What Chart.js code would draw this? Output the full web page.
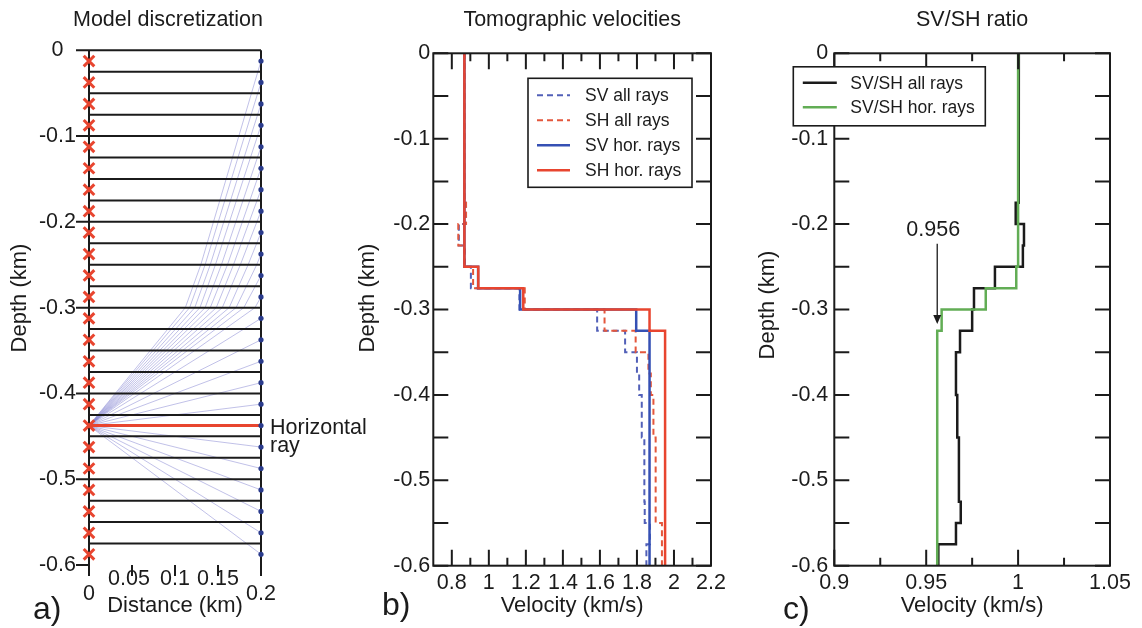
<!DOCTYPE html>
<html lang="en">
<head>
<meta charset="utf-8">
<title>Model discretization, tomographic velocities and SV/SH ratio</title>
<script src="https://cdn.jsdelivr.net/npm/chart.js@4/dist/chart.umd.min.js"></script>
<style>
  html, body { margin: 0; padding: 0; background: #ffffff; }
  body { position: relative; width: 1142px; height: 628px; overflow: hidden; }
  canvas { position: absolute; top: 0; }
</style>
</head>
<body>
<canvas id="panelA" width="372" height="628" style="left:0px"></canvas>
<canvas id="panelB" width="400" height="628" style="left:345px"></canvas>
<canvas id="panelC" width="397" height="628" style="left:745px"></canvas>
<script>
// ---------- layered model: 24 layers, 25 m thick (depth in km) ----------
const layerTop  = [0, -0.025, -0.05, -0.075, -0.1, -0.125, -0.15, -0.175, -0.2, -0.225, -0.25, -0.275,
                   -0.3, -0.325, -0.35, -0.375, -0.4, -0.425, -0.45, -0.475, -0.5, -0.525, -0.55, -0.575];
const layerBase = [-0.025, -0.05, -0.075, -0.1, -0.125, -0.15, -0.175, -0.2, -0.225, -0.25, -0.275, -0.3,
                   -0.325, -0.35, -0.375, -0.4, -0.425, -0.45, -0.475, -0.5, -0.525, -0.55, -0.575, -0.6];
const cellMid   = [-0.0125, -0.0375, -0.0625, -0.0875, -0.1125, -0.1375, -0.1625, -0.1875, -0.2125, -0.2375, -0.2625, -0.2875,
                   -0.3125, -0.3375, -0.3625, -0.3875, -0.4125, -0.4375, -0.4625, -0.4875, -0.5125, -0.5375, -0.5625, -0.5875];

// ---------- ray geometry (distance in km) ----------
const sourceDistance = 0;
const receiverDistance = 0.2;
const sourceDepth = -0.4375;
const horizontalReceiver = 17;
const bendDepths = [-0.3, -0.25];
// where the upgoing rays cross the -0.3 km and -0.25 km interfaces
const rayCrossing300 = [0.112, 0.117, 0.123, 0.129, 0.135, 0.141, 0.148, 0.155, 0.163, 0.171, 0.180, 0.193];
const rayCrossing250 = [0.130, 0.135, 0.141, 0.147, 0.154, 0.161, 0.168, 0.176, 0.185, 0.195];

// ---------- tomographic velocities per layer (km/s) ----------
const svAllRays = [0.868, 0.868, 0.868, 0.868, 0.868, 0.868, 0.868, 0.876, 0.838, 0.870, 0.903, 1.165,
                   1.585, 1.736, 1.800, 1.812, 1.826, 1.826, 1.840, 1.840, 1.840, 1.842, 1.870, 1.851];
const shAllRays = [0.868, 0.868, 0.868, 0.868, 0.868, 0.868, 0.868, 0.877, 0.835, 0.868, 0.915, 1.194,
                   1.625, 1.793, 1.862, 1.875, 1.889, 1.889, 1.901, 1.901, 1.901, 1.901, 1.935, 1.935];
const svHorRays = [0.868, 0.868, 0.868, 0.868, 0.868, 0.868, 0.868, 0.868, 0.868, 0.868, 0.942, 1.169,
                   1.796, 1.868, 1.868, 1.868, 1.868, 1.868, 1.868, 1.868, 1.868, 1.868, 1.868, 1.868];
const shHorRays = [0.868, 0.868, 0.868, 0.868, 0.868, 0.868, 0.868, 0.868, 0.868, 0.868, 0.943, 1.186,
                   1.868, 1.952, 1.952, 1.952, 1.952, 1.952, 1.952, 1.952, 1.952, 1.952, 1.952, 1.952];

// ---------- SV/SH ratios per layer ----------
const ratioAllRays = [1.0004, 1.0004, 1.0004, 1.0004, 1.0004, 1.0004, 1.0, 0.9987, 1.0032, 1.0026, 0.9874, 0.976,
                      0.975, 0.9684, 0.9662, 0.9662, 0.9669, 0.9669, 0.9678, 0.9678, 0.9678, 0.9688, 0.9662, 0.9566];
const ratioHorRays = [1.0, 1.0, 1.0, 1.0, 1.0, 1.0, 1.0, 1.0, 1.0, 1.0, 0.999, 0.9824,
                      0.9584, 0.956, 0.956, 0.956, 0.956, 0.956, 0.956, 0.956, 0.956, 0.956, 0.956, 0.956];
const annotationValue = 0.956;
const annotationLabel = '0.956';
const annotationTextDepth = -0.207;
const annotationArrowFrom = -0.223;
const annotationArrowTo = -0.317;

// ---------- axis ticks ----------
const depthTicks = [0, -0.1, -0.2, -0.3, -0.4, -0.5, -0.6];
const depthTickLabels = ['0', '-0.1', '-0.2', '-0.3', '-0.4', '-0.5', '-0.6'];
const depthMinorTicks = [-0.05, -0.15, -0.25, -0.35, -0.45, -0.55];
const distanceTicks = [0, 0.05, 0.1, 0.15, 0.2];
const distanceTickLabels = ['0', '0.05', '0.1', '0.15', '0.2'];
const velocityTicks = [0.8, 1, 1.2, 1.4, 1.6, 1.8, 2, 2.2];
const velocityTickLabels = ['0.8', '1', '1.2', '1.4', '1.6', '1.8', '2', '2.2'];
const velocityMinorTicks = [0.9, 1.1, 1.3, 1.5, 1.7, 1.9, 2.1];
const ratioTicks = [0.9, 0.95, 1, 1.05];
const ratioTickLabels = ['0.9', '0.95', '1', '1.05'];
const ratioMinorTicks = [0.925, 0.975, 1.025];

// ---------- styling ----------
const FONT = "'Liberation Sans', Arial, Helvetica, sans-serif";
const INK = '#1b1b1b';
const RED = '#e8452f';
const RED_DASH = '#e4573c';
const BLUE = '#3550b4';
const BLUE_DASH = '#5260b8';
const GREEN = '#62ad55';
const RAY = 'rgba(118, 118, 205, 0.45)';
const DOT = '#2a3b8c';

Chart.defaults.font.family = FONT;
Chart.defaults.font.size = 21.5;
Chart.defaults.color = INK;
Chart.defaults.animation = false;

function stepProfile(values) {
  const pts = [];
  values.forEach((v, k) => {
    pts.push({ x: v, y: layerTop[k] });
    pts.push({ x: v, y: layerBase[k] });
  });
  return pts;
}

function lineSet(label, data, color, width, dash, order) {
  return { label, data, showLine: true, borderColor: color, backgroundColor: color,
           borderWidth: width, borderDash: dash || [], pointRadius: 0, pointHoverRadius: 0,
           tension: 0, clip: false, order: order };
}

function depthAxis(width, pad, centered) {
  return {
    type: 'linear', position: 'left', min: -0.6, max: 0,
    afterBuildTicks: s => { s.ticks = depthTicks.map(v => ({ value: v })); },
    afterFit: s => { s.width = width; },
    grid: { display: false, drawTicks: false }, border: { display: false },
    ticks: { padding: pad, crossAlign: centered ? 'center' : 'near', color: INK,
             font: { size: 21.5 }, callback: (v, i) => depthTickLabels[i] }
  };
}

function valueAxis(min, max, ticks, labels, height, title, showLabels) {
  return {
    type: 'linear', position: 'bottom', min, max,
    afterBuildTicks: s => { s.ticks = ticks.map(v => ({ value: v })); },
    afterFit: s => { s.height = height; },
    grid: { display: false, drawTicks: false }, border: { display: false },
    ticks: { display: showLabels, padding: 4.1, color: INK, maxRotation: 0, autoSkip: false,
             font: { size: 21.5 }, callback: (v, i) => labels[i] },
    title: { display: true, text: title, color: INK, font: { size: 22 }, padding: { top: 0, bottom: 9.1 } }
  };
}

function baseOptions(title, padTop, padRight, titleGap) {
  return {
    responsive: false, maintainAspectRatio: false, animation: false, devicePixelRatio: 1,
    events: [],
    layout: { padding: { left: 0, top: padTop, right: padRight, bottom: 0 } },
    plugins: {
      legend: { display: false }, tooltip: { enabled: false },
      title: { display: !!title, text: title || '', fullSize: false, color: INK,
               font: { size: 21.5, weight: 'normal' }, padding: { top: 7.1, bottom: titleGap } }
    }
  };
}

function drawText(ctx, text, x, y, size, align) {
  ctx.save();
  ctx.font = size + 'px ' + FONT;
  ctx.fillStyle = INK;
  ctx.textAlign = align || 'center';
  ctx.textBaseline = 'middle';
  ctx.fillText(text, x, y);
  ctx.restore();
}

function drawRotated(ctx, text, x, y, size) {
  ctx.save();
  ctx.translate(x, y);
  ctx.rotate(-Math.PI / 2);
  ctx.font = size + 'px ' + FONT;
  ctx.fillStyle = INK;
  ctx.textAlign = 'center';
  ctx.textBaseline = 'middle';
  ctx.fillText(text, 0, 0);
  ctx.restore();
}

function drawPanelLetter(ctx, letter, x, y) {
  ctx.save();
  ctx.font = '32px ' + FONT;
  ctx.fillStyle = INK;
  ctx.textAlign = 'left';
  ctx.textBaseline = 'alphabetic';
  ctx.fillText(letter, x, y);
  ctx.restore();
}

// boxed frame with inward ticks on all four sides
function drawBoxFrame(chart, major, minor) {
  const { ctx, chartArea: a, scales: { x, y } } = chart;
  ctx.save();
  ctx.strokeStyle = INK;
  ctx.lineWidth = 2;
  ctx.strokeRect(a.left, a.top, a.right - a.left, a.bottom - a.top);
  ctx.beginPath();
  depthTicks.concat(depthMinorTicks).forEach(v => {
    const p = y.getPixelForValue(v);
    ctx.moveTo(a.left, p); ctx.lineTo(a.left + 15, p);
    ctx.moveTo(a.right, p); ctx.lineTo(a.right - 15, p);
  });
  major.forEach(v => {
    const p = x.getPixelForValue(v);
    ctx.moveTo(p, a.bottom); ctx.lineTo(p, a.bottom - 16);
    ctx.moveTo(p, a.top); ctx.lineTo(p, a.top + 16);
  });
  minor.forEach(v => {
    const p = x.getPixelForValue(v);
    ctx.moveTo(p, a.bottom); ctx.lineTo(p, a.bottom - 8);
    ctx.moveTo(p, a.top); ctx.lineTo(p, a.top + 8);
  });
  ctx.stroke();
  ctx.restore();
}

function drawLegend(chart, box, ids) {
  const { ctx } = chart;
  ctx.save();
  ctx.fillStyle = '#ffffff';
  ctx.fillRect(box.x, box.y, box.w, box.h);
  ctx.strokeStyle = INK;
  ctx.lineWidth = 1.6;
  ctx.strokeRect(box.x, box.y, box.w, box.h);
  ids.forEach((idx, i) => {
    const ds = chart.data.datasets[idx];
    const yy = box.y + box.first + i * box.step;
    ctx.strokeStyle = ds.borderColor;
    ctx.lineWidth = ds.borderWidth;
    ctx.setLineDash(ds.borderDash || []);
    ctx.beginPath();
    ctx.moveTo(box.x + box.s0, yy);
    ctx.lineTo(box.x + box.s1, yy);
    ctx.stroke();
    ctx.setLineDash([]);
    ctx.fillStyle = INK;
    ctx.font = '17.5px ' + FONT;
    ctx.textAlign = 'left';
    ctx.textBaseline = 'middle';
    ctx.fillText(ds.label, box.x + box.tx, yy + 1);
  });
  ctx.restore();
}

// =================== a) model discretization ===================
const rayDatasets = [];
cellMid.forEach((d, k) => {
  if (k === horizontalReceiver) return;
  const pts = [{ x: sourceDistance, y: sourceDepth }];
  if (k < rayCrossing300.length) pts.push({ x: rayCrossing300[k], y: bendDepths[0] });
  if (k < rayCrossing250.length) pts.push({ x: rayCrossing250[k], y: bendDepths[1] });
  pts.push({ x: receiverDistance, y: d });
  rayDatasets.push(lineSet('ray ' + k, pts, RAY, 1, null, 4));
});
const interfaceDatasets = layerTop.map(d =>
  lineSet('interface', [{ x: sourceDistance, y: d }, { x: receiverDistance, y: d }], INK, 2, null, 3));

const panelADatasets = [
  { label: 'sources', data: cellMid.map(d => ({ x: sourceDistance, y: d })), showLine: false,
    pointStyle: 'crossRot', pointRadius: 7.5, pointBorderWidth: 3, borderColor: RED, borderWidth: 3,
    backgroundColor: RED, clip: false, order: 0 },
  { label: 'receivers', data: cellMid.map(d => ({ x: receiverDistance, y: d })), showLine: false,
    pointStyle: 'circle', pointRadius: 2.6, borderWidth: 0, backgroundColor: DOT, borderColor: DOT,
    clip: false, order: 0 },
  lineSet('Horizontal ray', [{ x: sourceDistance, y: sourceDepth }, { x: receiverDistance, y: cellMid[horizontalReceiver] }], RED, 3, null, 1)
].concat(interfaceDatasets, rayDatasets);

// the title is wider than the plot, so it is drawn by the frame plugin
const optsA = baseOptions(null, 50.3, 111, 0);
optsA.scales = {
  x: valueAxis(0, 0.2, distanceTicks, distanceTickLabels, 63, 'Distance (km)', false),
  y: depthAxis(89, 13, true)
};

const panelAFrame = {
  id: 'panelAFrame',
  beforeDatasetsDraw(chart) {
    const { ctx, scales: { x, y } } = chart;
    const x0 = x.getPixelForValue(0), x1 = x.getPixelForValue(0.2);
    const yTop = y.getPixelForValue(0), yBot = y.getPixelForValue(-0.6);
    ctx.save();
    ctx.strokeStyle = INK;
    ctx.lineWidth = 2;
    ctx.beginPath();
    ctx.moveTo(x0, yTop); ctx.lineTo(x0, yBot + 11);
    ctx.moveTo(x1, yTop); ctx.lineTo(x1, yBot + 11);
    depthTicks.forEach(v => {
      const p = y.getPixelForValue(v);
      ctx.moveTo(x0 - 13, p); ctx.lineTo(x0, p);
    });
    distanceTicks.slice(1, -1).forEach(v => {
      const p = x.getPixelForValue(v);
      ctx.moveTo(p, yBot); ctx.lineTo(p, yBot + 11);
    });
    ctx.stroke();
    ctx.restore();
  },
  afterDraw(chart) {
    const { ctx, scales: { x, y } } = chart;
    const yBot = y.getPixelForValue(-0.6);
    distanceTicks.forEach((v, i) => {
      const edge = i === 0 || i === distanceTicks.length - 1;
      drawText(ctx, distanceTickLabels[i], x.getPixelForValue(v) + (i === 1 ? -3 : 0), yBot + (edge ? 29 : 14), 21.5);
    });
    const ry = y.getPixelForValue(cellMid[horizontalReceiver]);
    const rx = x.getPixelForValue(receiverDistance) + 9;
    ctx.save();
    ctx.fillStyle = INK;
    ctx.font = '21.5px ' + FONT;
    ctx.textAlign = 'left';
    ctx.textBaseline = 'alphabetic';
    ctx.fillText('Horizontal', rx, ry + 8);
    ctx.fillText('ray', rx, ry + 26.5);
    ctx.restore();
    drawText(ctx, 'Model discretization', 168, 20, 21.5);
    drawRotated(ctx, 'Depth (km)', 19.5, 298, 22);
    drawPanelLetter(ctx, 'a)', 33, 619);
  }
};

new Chart(document.getElementById('panelA'), {
  type: 'scatter',
  data: { datasets: panelADatasets },
  options: optsA,
  plugins: [panelAFrame]
});

// =================== b) tomographic velocities ===================
const optsB = baseOptions('Tomographic velocities', 0, 34, 20.4);
optsB.scales = {
  x: valueAxis(0.7, 2.2, velocityTicks, velocityTickLabels, 62.3, 'Velocity (km/s)', true),
  y: depthAxis(88.3, 3, false)
};

const panelBFrame = {
  id: 'panelBFrame',
  afterDatasetsDraw(chart) {
    drawBoxFrame(chart, velocityTicks, velocityMinorTicks);
    const a = chart.chartArea;
    drawLegend(chart, { x: a.right - 19 - 164, y: a.top + 25, w: 164, h: 109,
                        first: 17, step: 25, s0: 9, s1: 42, tx: 57 }, [0, 1, 2, 3]);
  },
  afterDraw(chart) {
    drawRotated(chart.ctx, 'Depth (km)', 22.5, 298, 22);
    drawPanelLetter(chart.ctx, 'b)', 37, 615);
  }
};

new Chart(document.getElementById('panelB'), {
  type: 'scatter',
  data: {
    datasets: [
      lineSet('SV all rays', stepProfile(svAllRays), BLUE_DASH, 2, [6, 4], 3),
      lineSet('SH all rays', stepProfile(shAllRays), RED_DASH, 2, [6, 4], 2),
      lineSet('SV hor. rays', stepProfile(svHorRays), BLUE, 2.5, null, 1),
      lineSet('SH hor. rays', stepProfile(shHorRays), RED, 2.5, null, 0)
    ]
  },
  options: optsB,
  plugins: [panelBFrame]
});

// =================== c) SV/SH ratio ===================
const optsC = baseOptions('SV/SH ratio', 0, 32, 20.4);
optsC.scales = {
  x: valueAxis(0.9, 1.05, ratioTicks, ratioTickLabels, 62.3, 'Velocity (km/s)', true),
  y: depthAxis(89.3, 6, false)
};

const panelCFrame = {
  id: 'panelCFrame',
  afterDatasetsDraw(chart) {
    const { ctx, chartArea: a, scales: { x, y } } = chart;
    drawBoxFrame(chart, ratioTicks, ratioMinorTicks);
    drawLegend(chart, { x: a.left - 41, y: a.top + 13.5, w: 192, h: 59,
                        first: 16, step: 24.5, s0: 9.5, s1: 43.5, tx: 57 }, [0, 1]);
    // labelled arrow at the horizontal-ray ratio
    const ax = x.getPixelForValue(annotationValue);
    const y0 = y.getPixelForValue(annotationArrowFrom);
    const y1 = y.getPixelForValue(annotationArrowTo);
    ctx.save();
    ctx.strokeStyle = INK;
    ctx.fillStyle = INK;
    ctx.lineWidth = 1.3;
    ctx.beginPath();
    ctx.moveTo(ax, y0); ctx.lineTo(ax, y1 - 8);
    ctx.stroke();
    ctx.beginPath();
    ctx.moveTo(ax - 4, y1 - 9); ctx.lineTo(ax + 4, y1 - 9); ctx.lineTo(ax, y1); ctx.closePath();
    ctx.fill();
    ctx.restore();
    drawText(ctx, annotationLabel, ax - 4, y.getPixelForValue(annotationTextDepth), 21.5);
  },
  afterDraw(chart) {
    drawRotated(chart.ctx, 'Depth (km)', 22.5, 305, 22);
    drawPanelLetter(chart.ctx, 'c)', 38, 619);
  }
};

new Chart(document.getElementById('panelC'), {
  type: 'scatter',
  data: {
    datasets: [
      lineSet('SV/SH all rays', stepProfile(ratioAllRays), INK, 2.5, null, 1),
      lineSet('SV/SH hor. rays', stepProfile(ratioHorRays), GREEN, 2.5, null, 0)
    ]
  },
  options: optsC,
  plugins: [panelCFrame]
});
</script>
</body>
</html>
